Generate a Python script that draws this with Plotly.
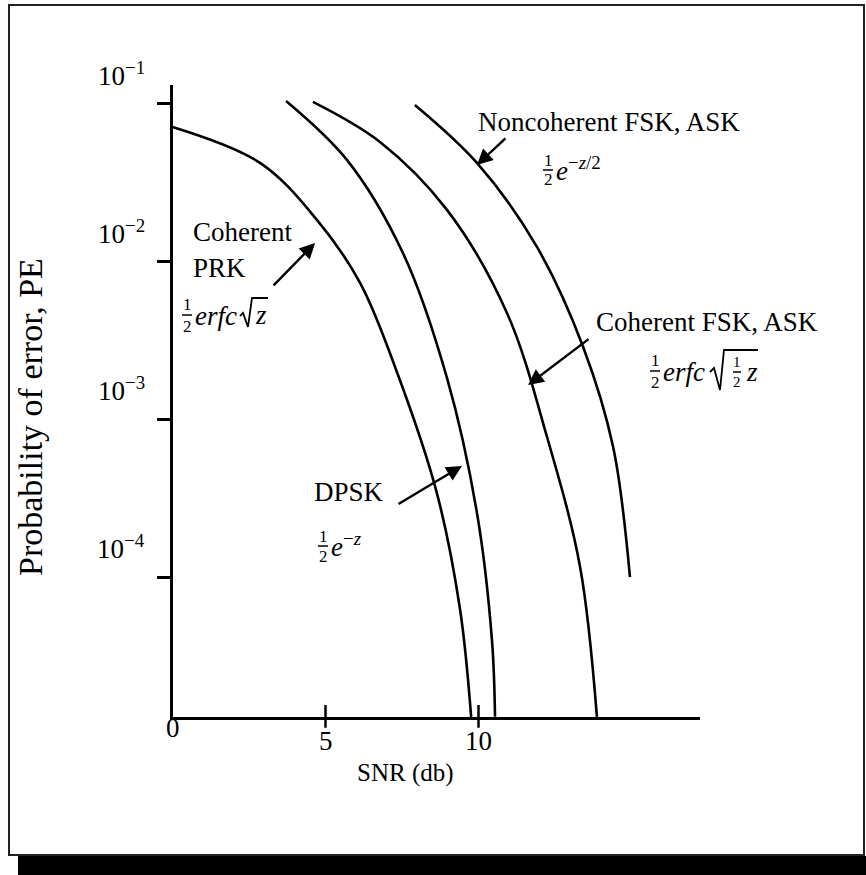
import math
import plotly.graph_objects as go

# ---- curve data: SNR (dB) and probability of error -------------------------
prk_snr = [0.0, 2.86, 4.72, 6.13, 7.37, 8.64, 9.40, 9.76]
prk_pe = [0.0714, 0.0423, 0.0184, 0.00733, 0.00191, 3.41e-4, 6.18e-5, 1.30e-5]

dpsk_snr = [3.71, 5.70, 7.53, 8.97, 9.95, 10.44, 10.54]
dpsk_pe = [0.1045, 0.0442, 0.01135, 0.00183, 2.55e-4, 3.99e-5, 1.30e-5]

cfsk_snr = [4.59, 6.78, 8.97, 10.93, 12.24, 13.32, 13.87]
cfsk_pe = [0.103, 0.0574, 0.0213, 0.00473, 7.73e-4, 1.16e-4, 1.30e-5]

ncfsk_snr = [7.92, 9.95, 11.91, 13.42, 14.40, 14.95]
ncfsk_pe = [0.0986, 0.0423, 0.0124, 0.00288, 6.68e-4, 1.00e-4]

# ---- axis ticks ------------------------------------------------------------
x_tick_vals = [0, 5, 10]
x_tick_text = ["0", "5", "10"]
y_tick_vals = [1e-1, 1e-2, 1e-3, 1e-4, 1e-5]
y_tick_text = ["10<sup>−1</sup>", "10<sup>−2</sup>", "10<sup>−3</sup>",
               "10<sup>−4</sup>", "10<sup>−5</sup>"]

W, H = 866, 875
FONT = "Liberation Serif, Times New Roman, serif"


def px(x):
    return x / W


def py(y):
    return 1 - y / H


fig = go.Figure()
for xs, ys in [(prk_snr, prk_pe), (dpsk_snr, dpsk_pe), (cfsk_snr, cfsk_pe), (ncfsk_snr, ncfsk_pe)]:
    fig.add_trace(go.Scatter(x=xs, y=ys, mode="lines",
                             line=dict(color="black", width=2.6, shape="spline", smoothing=1.0),
                             showlegend=False, hoverinfo="skip"))

annotations = []
shapes = []


def text(t, x, y, size=27, xanchor="left", yanchor="middle", angle=0):
    annotations.append(dict(text=t, x=px(x), y=py(y), xref="paper", yref="paper",
                            xanchor=xanchor, yanchor=yanchor, showarrow=False,
                            textangle=angle, font=dict(family=FONT, size=size, color="black")))


def frac(xc, ybar, size=17, gap=11, half=5):
    text("1", xc, ybar - gap, size=size, xanchor="center")
    text("2", xc, ybar + gap, size=size, xanchor="center")
    shapes.append(dict(type="line", xref="paper", yref="paper",
                       x0=px(xc - half), x1=px(xc + half), y0=py(ybar), y1=py(ybar),
                       line=dict(color="black", width=1.5)))


def radical(pts):
    path = "M " + " L ".join(f"{px(a):.5f},{py(b):.5f}" for a, b in pts)
    shapes.append(dict(type="path", xref="paper", yref="paper", path=path,
                       line=dict(color="black", width=1.8)))


def arrow(x_db, pe, ax, ay):
    annotations.append(dict(text="", x=x_db, y=math.log10(pe), xref="x", yref="y",
                            ax=ax, ay=ay, showarrow=True, arrowhead=2, arrowsize=1.3,
                            arrowwidth=2.4, arrowcolor="black"))


# tick labels (the decade labels sit a little above their tick marks)
for v, t in zip(x_tick_vals, x_tick_text):
    annotations.append(dict(text=t, x=v, y=py(728 if v == 0 else 741), xref="x", yref="paper",
                            showarrow=False, xanchor="center", yanchor="middle",
                            font=dict(family=FONT, size=27, color="black")))
for v, t in zip(y_tick_vals, y_tick_text):
    annotations.append(dict(text=t, x=px(147), y=math.log10(v), xref="paper", yref="y",
                            yshift=30, showarrow=False, xanchor="right", yanchor="middle",
                            font=dict(family=FONT, size=27, color="black")))

# x-axis tick marks crossing the axis line
for v in x_tick_vals[1:]:
    shapes.append(dict(type="line", xref="x", yref="y domain", x0=v, x1=v, y0=-0.017, y1=0.019,
                       line=dict(color="black", width=2.5)))

# axis titles
text("Probability of error, PE", 30, 417, size=34, xanchor="center", angle=-90)
text("SNR (db)", 405, 773, size=25, xanchor="center")

# curve labels
text("Coherent", 191, 232)
text("PRK", 191, 268)
frac(187, 315)
text("<i>erfc</i>", 193, 316)
radical([(240, 316), (243, 313), (248, 327), (252, 298), (268, 298)])
text("<i>z</i>", 253, 315)
arrow(4.66, 10 ** -1.881, -43, 44)

text("DPSK", 312, 492)
frac(323, 546, gap=10)
text("<i>e</i><sup>−<i>z</i></sup>", 329, 545)
arrow(9.46, 10 ** -3.295, -65, 39)

text("Noncoherent FSK, ASK", 476, 122)
frac(548, 170, gap=9)
text("<i>e</i><sup>−<i>z</i>/2</sup>", 554, 169)
arrow(9.95, 10 ** -1.387, 30, -28)

text("Coherent FSK, ASK", 594, 322)
frac(655, 371)
text("<i>erfc</i>", 661, 372)
radical([(710, 372), (714, 368), (720, 390), (724, 350), (758, 350)])
frac(737, 372, size=15, gap=10, half=4)
text("<i>z</i>", 744, 372)
arrow(11.62, 10 ** -2.782, 62, -47)

# page frame with a dark drop band underneath
shapes.append(dict(type="rect", xref="paper", yref="paper", x0=px(9), x1=px(864), y0=py(855), y1=py(5),
                   line=dict(color="#222", width=2), fillcolor="rgba(0,0,0,0)"))
shapes.append(dict(type="rect", xref="paper", yref="paper", x0=px(18), x1=px(866), y0=py(875), y1=py(856),
                   line=dict(width=0), fillcolor="black"))

fig.update_layout(
    width=W, height=H,
    margin=dict(l=0, r=0, t=0, b=0),
    paper_bgcolor="white", plot_bgcolor="white",
    showlegend=False,
    annotations=annotations,
    shapes=shapes,
    xaxis=dict(domain=[px(172.5), px(700)], range=[0, (700 - 172.5) / 30.6],
               showgrid=False, zeroline=False, showline=True, linewidth=3, linecolor="black",
               ticks="", showticklabels=False),
    yaxis=dict(domain=[py(717), py(85)], type="log", range=[-4.887, -0.880],
               showgrid=False, zeroline=False, showline=True, linewidth=3, linecolor="black",
               tickvals=y_tick_vals[:4], ticks="outside", ticklen=13, tickwidth=3, tickcolor="black",
               showticklabels=False),
)

fig.write_html("out.html")
